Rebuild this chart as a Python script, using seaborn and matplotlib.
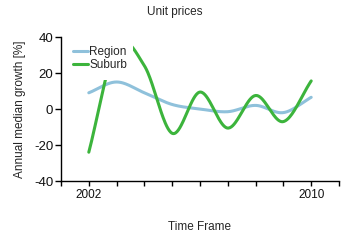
import numpy as np
import pandas as pd
import matplotlib
matplotlib.use("Agg")
import matplotlib.pyplot as plt
from matplotlib.patches import Rectangle
import seaborn as sns

# ---- data ----
years = [2002, 2003, 2004, 2005, 2006, 2007, 2008, 2009, 2010]
region = [9, 15, 9, 2.5, 0, -1.5, 2, -2, 6.5]
suburb = [-24, 35, 24, -13.5, 9.4, -10.6, 7.5, -7, 15.6]
series_names = ["Region", "Suburb"]
x_tick_years = list(range(2001, 2012))
x_tick_labels = ["" if y not in (2002, 2010) else str(y) for y in x_tick_years]
y_ticks = [-40, -20, 0, 20, 40]


def spline(xs, ys, n=40):
    """Catmull-Rom style smooth line through the data points (drawing only)."""
    xs = np.asarray(xs, float)
    ys = np.asarray(ys, float)
    m = np.zeros_like(ys)
    m[1:-1] = (ys[2:] - ys[:-2]) / (xs[2:] - xs[:-2])
    m[0] = (ys[1] - ys[0]) / (xs[1] - xs[0])
    m[-1] = (ys[-1] - ys[-2]) / (xs[-1] - xs[-2])
    out_x, out_y = [], []
    for i in range(len(xs) - 1):
        h = xs[i + 1] - xs[i]
        t = np.linspace(0, 1, n, endpoint=(i == len(xs) - 2))
        h00 = 2 * t**3 - 3 * t**2 + 1
        h10 = t**3 - 2 * t**2 + t
        h01 = -2 * t**3 + 3 * t**2
        h11 = t**3 - t**2
        out_x.append(xs[i] + t * h)
        out_y.append(h00 * ys[i] + h10 * h * m[i] + h01 * ys[i + 1] + h11 * h * m[i + 1])
    return np.concatenate(out_x), np.concatenate(out_y)


frames = []
for name, vals in zip(series_names, [region, suburb]):
    sx, sy = spline(years, vals)
    frames.append(pd.DataFrame({"year": sx, "value": sy, "series": name}))
df = pd.concat(frames, ignore_index=True)

sns.set_style("white")
plt.rcParams["font.family"] = ["Liberation Sans", "DejaVu Sans"]

fig = plt.figure(figsize=(3.5, 2.4), dpi=100)
ax = fig.add_axes([61 / 350, 59 / 240, 278 / 350, 144 / 240])

palette = {"Region": "#8fc1db", "Suburb": "#3cb43c"}
sns.lineplot(data=df, x="year", y="value", hue="series", palette=palette,
             estimator=None, sort=False, linewidth=2.2, ax=ax, legend=True)

ax.set_xlim(2001, 2011)
ax.set_ylim(-40, 40)
ax.set_xticks(x_tick_years)
ax.set_xticklabels(x_tick_labels, fontsize=8.5)
ax.set_yticks(y_ticks)
ax.set_yticklabels([str(v) for v in y_ticks], fontsize=9.5)
ax.tick_params(axis="x", direction="out", length=3.5, width=1, color="black", pad=2,
               bottom=True, labelcolor="#111111")
ax.tick_params(axis="y", direction="out", length=4.5, width=1, color="black", pad=1,
               left=True, labelcolor="#111111")

for s in ["top", "right"]:
    ax.spines[s].set_visible(False)
for s in ["left", "bottom"]:
    ax.spines[s].set_color("black")
    ax.spines[s].set_linewidth(1)

ax.set_xlabel("Time Frame", fontsize=8.5, labelpad=15)
ax.set_ylabel("Annual median growth [%]", fontsize=8.5, labelpad=6)
fig.text(0.5, 1 - 12 / 240, "Unit prices", ha="center", va="center", fontsize=8.5)

# white legend background covering the lines
ax.add_patch(Rectangle((0.01, 0.70), 0.25, 0.30, transform=ax.transAxes,
                       facecolor="white", edgecolor="none", zorder=3))
handles, labels = ax.get_legend_handles_labels()
leg = ax.legend(handles, labels, loc="upper left", bbox_to_anchor=(0.043, 0.94),
                frameon=False, fontsize=8.5, handlelength=1.25, handletextpad=0.12,
                borderpad=0, borderaxespad=0, labelspacing=0.12)
leg.set_zorder(5)

fig.savefig("out.png", dpi=100, facecolor="white")
